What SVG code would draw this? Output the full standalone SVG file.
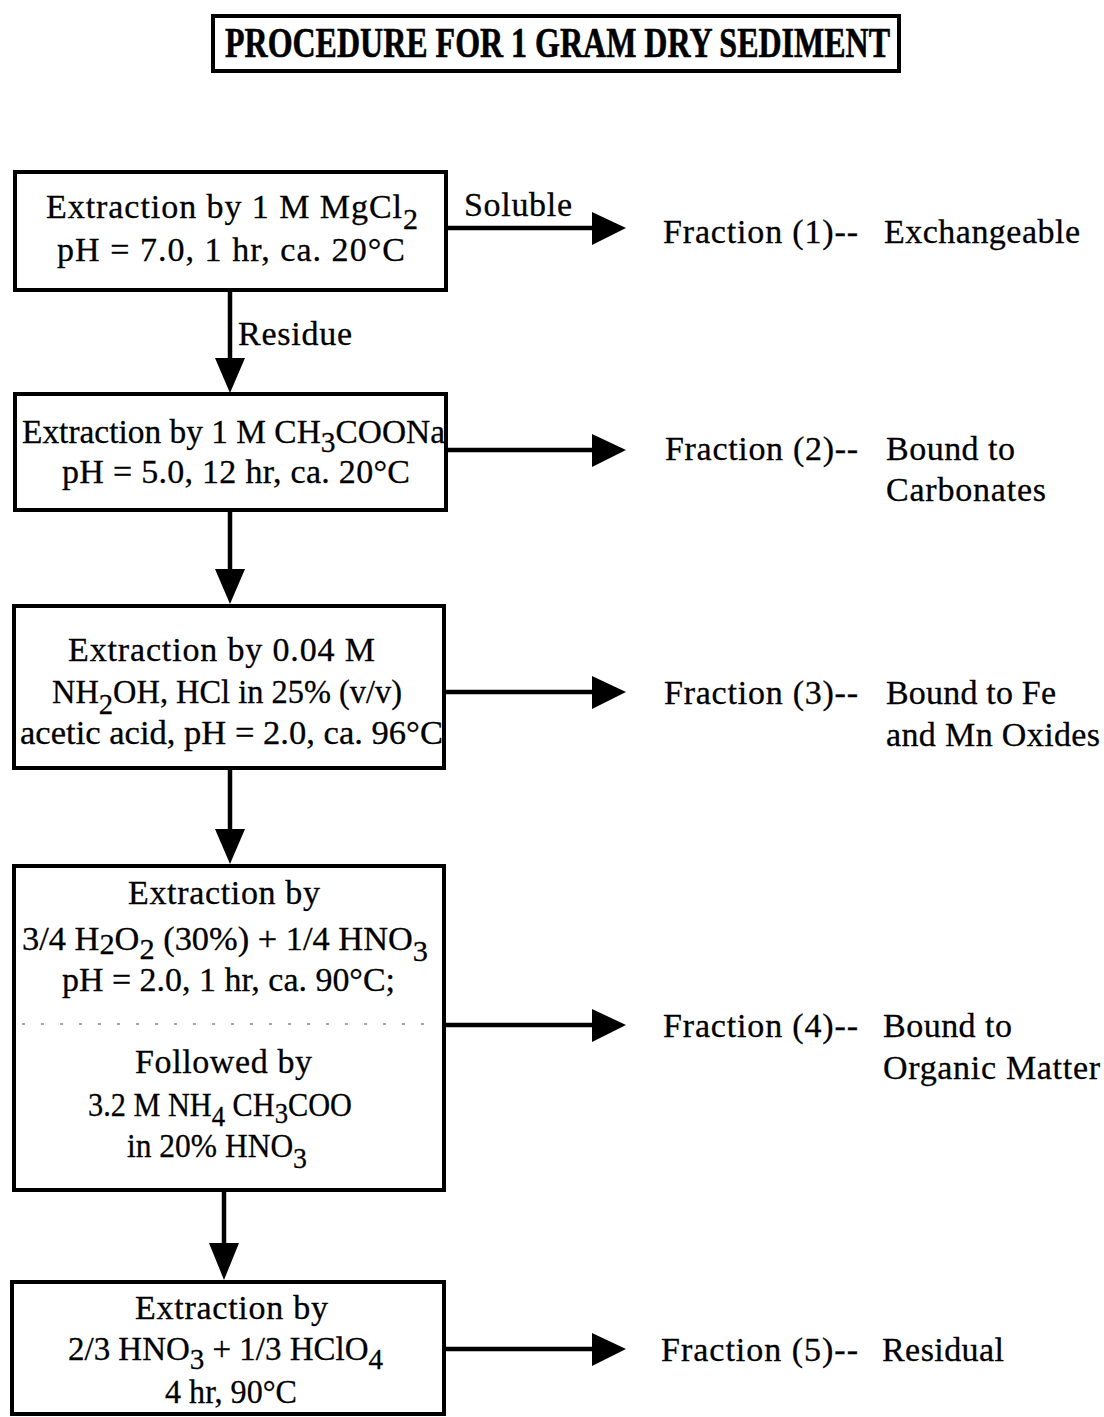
<svg xmlns="http://www.w3.org/2000/svg" width="1104" height="1417" viewBox="0 0 1104 1417">
  <style>
    .box { fill: #fff; stroke: #000; stroke-width: 4; }
    .t { font-family: "Liberation Serif", "DejaVu Serif", serif; font-size: 34px; fill: #000; stroke: #000; stroke-width: 0.3; }
    .sub { font-size: 30px; }
    .title { font-family: "Liberation Serif", serif; font-weight: bold; font-size: 42px; fill: #000; stroke: #000; stroke-width: 0.6; }
    .line { stroke: #000; stroke-width: 4.5; fill: none; }
    .head { fill: #000; }
    .dots { stroke: #888; stroke-width: 1.5; stroke-dasharray: 3 16; }
  </style>
  <rect width="1104" height="1417" fill="#fff"/>

  <!-- title -->
  <g id="title">
    <rect class="box" x="213" y="16" width="686" height="55" stroke-width="3"/>
    <text class="title" x="225" y="57" textLength="665" lengthAdjust="spacingAndGlyphs">PROCEDURE FOR 1 GRAM DRY SEDIMENT</text>
  </g>

  <!-- connectors -->
  <g id="connectors">
    <line class="line" x1="446" y1="228" x2="595" y2="228"/>
    <polygon class="head" points="592,212 626,228 592,245"/>
    <line class="line" x1="230" y1="290" x2="230" y2="360"/>
    <polygon class="head" points="215,358 245,358 230,393"/>
    <line class="line" x1="446" y1="450" x2="595" y2="450"/>
    <polygon class="head" points="592,434 626,450 592,467"/>
    <line class="line" x1="230" y1="510" x2="230" y2="570"/>
    <polygon class="head" points="215,569 245,569 230,604"/>
    <line class="line" x1="444" y1="692" x2="595" y2="692"/>
    <polygon class="head" points="592,676 626,692 592,709"/>
    <line class="line" x1="230" y1="768" x2="230" y2="832"/>
    <polygon class="head" points="215,829 245,829 230,864"/>
    <line class="line" x1="444" y1="1025" x2="595" y2="1025"/>
    <polygon class="head" points="592,1009 626,1025 592,1042"/>
    <line class="line" x1="224" y1="1190" x2="224" y2="1245"/>
    <polygon class="head" points="209,1243 239,1243 224,1280"/>
    <line class="line" x1="444" y1="1349" x2="595" y2="1349"/>
    <polygon class="head" points="592,1333 626,1349 592,1366"/>
    <text class="t" x="464" y="216" textLength="108" lengthAdjust="spacing">Soluble</text>
    <text class="t" x="238" y="345" textLength="114" lengthAdjust="spacing">Residue</text>
  </g>

  <!-- step 1 -->
  <g id="step1">
    <rect class="box" x="15" y="172" width="431" height="118"/>
    <text class="t" x="46" y="218" textLength="372" lengthAdjust="spacing">Extraction by 1 M MgCl<tspan class="sub" dy="11">2</tspan></text>
    <text class="t" x="57" y="261" textLength="348" lengthAdjust="spacing">pH = 7.0, 1 hr, ca. 20°C</text>
  </g>

  <!-- step 2 -->
  <g id="step2">
    <rect class="box" x="15" y="394" width="431" height="116"/>
    <text class="t" x="22" y="443" textLength="423" lengthAdjust="spacingAndGlyphs">Extraction by 1 M CH<tspan class="sub" dy="9">3</tspan><tspan dy="-9">COONa</tspan></text>
    <text class="t" x="62" y="483" textLength="348" lengthAdjust="spacing">pH = 5.0, 12 hr, ca. 20°C</text>
  </g>

  <!-- step 3 -->
  <g id="step3">
    <rect class="box" x="14" y="606" width="430" height="162"/>
    <text class="t" x="68" y="661" textLength="307" lengthAdjust="spacing">Extraction by 0.04 M</text>
    <text class="t" x="52" y="703" textLength="350" lengthAdjust="spacingAndGlyphs">NH<tspan class="sub" dy="11">2</tspan><tspan dy="-11">OH, HCl in 25% (v/v)</tspan></text>
    <text class="t" x="20" y="744" textLength="423" lengthAdjust="spacingAndGlyphs">acetic acid, pH = 2.0, ca. 96°C</text>
  </g>

  <!-- step 4 -->
  <g id="step4">
    <rect class="box" x="14" y="866" width="430" height="324"/>
    <line class="dots" x1="22" y1="1024" x2="440" y2="1024"/>
    <text class="t" x="128" y="904" textLength="192" lengthAdjust="spacing">Extraction by</text>
    <text class="t" x="22" y="950" textLength="406" lengthAdjust="spacingAndGlyphs">3/4 H<tspan class="sub" dy="4">2</tspan><tspan dy="-4">O</tspan><tspan class="sub" dy="9">2</tspan><tspan dy="-9"> (30%) + 1/4 HNO</tspan><tspan class="sub" dy="11">3</tspan></text>
    <text class="t" x="62" y="991" textLength="333" lengthAdjust="spacingAndGlyphs">pH = 2.0, 1 hr, ca. 90°C;</text>
    <text class="t" x="135" y="1073" textLength="177" lengthAdjust="spacing">Followed by</text>
    <text class="t" x="88" y="1116" textLength="264" lengthAdjust="spacingAndGlyphs">3.2 M NH<tspan class="sub" dy="10">4</tspan><tspan dy="-10"> CH</tspan><tspan class="sub" dy="7">3</tspan><tspan dy="-7">COO</tspan></text>
    <text class="t" x="127" y="1157" textLength="180" lengthAdjust="spacingAndGlyphs">in 20% HNO<tspan class="sub" dy="11">3</tspan></text>
  </g>

  <!-- step 5 -->
  <g id="step5">
    <rect class="box" x="12" y="1282" width="432" height="132"/>
    <text class="t" x="135" y="1319" textLength="193" lengthAdjust="spacing">Extraction by</text>
    <text class="t" x="68" y="1360" textLength="315" lengthAdjust="spacingAndGlyphs">2/3 HNO<tspan class="sub" dy="9">3</tspan><tspan dy="-9"> + 1/3 HClO</tspan><tspan class="sub" dy="9">4</tspan></text>
    <text class="t" x="165" y="1403" textLength="132" lengthAdjust="spacingAndGlyphs">4 hr, 90°C</text>
  </g>

  <!-- fractions -->
  <g id="fraction1">
    <text class="t" x="663" y="243" textLength="195" lengthAdjust="spacing">Fraction (1)--</text>
    <text class="t" x="884" y="243" textLength="196" lengthAdjust="spacing">Exchangeable</text>
  </g>
  <g id="fraction2">
    <text class="t" x="665" y="460" textLength="193" lengthAdjust="spacing">Fraction (2)--</text>
    <text class="t" x="886" y="460" textLength="129" lengthAdjust="spacing">Bound to</text>
    <text class="t" x="886" y="501" textLength="160" lengthAdjust="spacing">Carbonates</text>
  </g>
  <g id="fraction3">
    <text class="t" x="664" y="704" textLength="194" lengthAdjust="spacing">Fraction (3)--</text>
    <text class="t" x="886" y="704" textLength="170" lengthAdjust="spacing">Bound to Fe</text>
    <text class="t" x="886" y="746" textLength="214" lengthAdjust="spacing">and Mn Oxides</text>
  </g>
  <g id="fraction4">
    <text class="t" x="663" y="1037" textLength="195" lengthAdjust="spacing">Fraction (4)--</text>
    <text class="t" x="883" y="1037" textLength="129" lengthAdjust="spacing">Bound to</text>
    <text class="t" x="883" y="1079" textLength="217" lengthAdjust="spacing">Organic Matter</text>
  </g>
  <g id="fraction5">
    <text class="t" x="661" y="1361" textLength="197" lengthAdjust="spacing">Fraction (5)--</text>
    <text class="t" x="882" y="1361" textLength="122" lengthAdjust="spacing">Residual</text>
  </g>
</svg>
